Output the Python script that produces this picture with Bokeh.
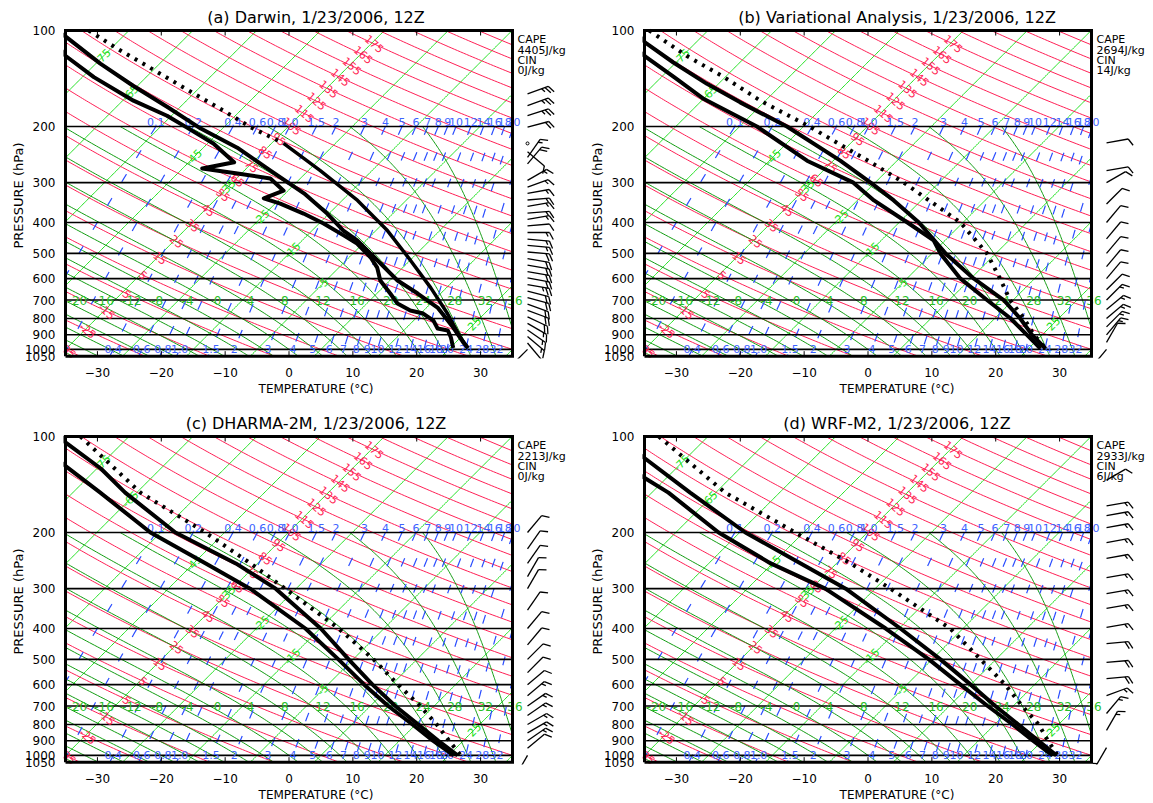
import numpy as np
from bokeh.plotting import figure
from bokeh.layouts import column, row
from bokeh.models import Range1d, FixedTicker, PrintfTickFormatter, Title
from bokeh.core.properties import value
from bokeh.embed import file_html
from bokeh.resources import INLINE

FONT = "DejaVu Sans"

# ---------------- data ----------------
titles = ["(a) Darwin, 1/23/2006, 12Z", "(b) Variational Analysis, 1/23/2006, 12Z",
          "(c) DHARMA-2M, 1/23/2006, 12Z", "(d) WRF-M2, 1/23/2006, 12Z"]
cape_text = ["4405J/kg", "2694J/kg", "2213J/kg", "2933J/kg"]
cin_text = ["0J/kg", "14J/kg", "0J/kg", "6J/kg"]

temp_ticks = [-30, -20, -10, 0, 10, 20, 30]
pres_ticks = [100, 200, 300, 400, 500, 600, 700, 800, 900, 1000, 1050]
pres_lines = [200, 300, 400, 500, 600, 700, 800, 900, 1000]
isotherms = list(range(-85, 36, 10))
dry_adiabats = list(range(-35, 226, 10))
moist_adiabats = list(range(-40, 37, 4))
moist_labels = list(range(-20, 37, 4))
mix_ratios = [0.1, 0.2, 0.4, 0.6, 0.8, 1.0, 1.5, 2, 3, 4, 5, 6, 7, 8, 9, 10, 12, 14, 16, 18, 20, 24, 28, 32]
mix_names = ["0.1", "0.2", "0.4", "0.6", "0.8", "1.0", "1.5", "2", "3", "4", "5", "6", "7", "8", "9",
             "10", "12", "14", "16", "18", "20", "24", "28", "32"]
iso_label_t = [-75, -65, -45, -35, -25, -15, -5, 25]
iso_label_p = [121, 157, 250, 311, 386, 489, 622, 830]

# panel (a) Darwin
a_temp_p = [100, 104, 127, 149, 174, 203, 233, 275, 324, 375, 424, 456, 500, 538, 608, 668, 739, 854, 951, 990]
a_temp_t = [-86.5, -84.2, -74.3, -65.7, -56.9, -48.4, -39.7, -30.9, -22.1, -15.3, -10.1, -6.3, -2.3, 0.9,
            6.2, 11.4, 16.7, 22.3, 26.2, 27.8]
a_dewp_p = [100, 120, 140, 166, 185, 202, 226, 259, 271, 281, 291, 318, 336, 349, 375, 403, 439, 466, 515,
            554, 608, 668, 718, 755, 772, 812, 860, 872, 918, 990]
a_dewp_t = [-88.0, -81.0, -73.2, -63.3, -55.7, -50.6, -44.1, -37.9, -41.9, -35.6, -29.7, -25.7, -27.6,
            -24.2, -19.0, -14.3, -9.3, -5.9, -1.6, 1.0, 3.5, 7.1, 9.8, 12.9, 15.4, 18.1, 20.0, 21.9, 23.5, 25.5]
a_parc_p = [100, 114, 131, 151, 174, 201, 226, 275, 341, 424, 526, 640, 772, 918, 990]
a_parc_t = [-81.3, -74.0, -65.8, -57.5, -49.1, -40.8, -33.1, -23.1, -12.6, -3.2, 5.1, 12.5, 19.2, 25.0, 27.8]

# panel (b) Variational Analysis
b_temp_p = [100, 109, 126, 147, 168, 200, 256, 300, 341, 400, 500, 600, 700, 800, 900, 995]
b_temp_t = [-86.5, -83.0, -75.4, -66.8, -58.7, -47.6, -33.9, -25.7, -19.3, -11.9, -2.9, 5.5, 13.5, 19.0, 23.4, 27.7]
b_dewp_p = [100, 121, 140, 164, 200, 256, 300, 341, 400, 455, 500, 600, 700, 800, 900, 995]
b_dewp_t = [-90.0, -80.6, -73.0, -64.9, -52.3, -39.1, -28.4, -22.4, -13.7, -6.8, -3.7, 3.4, 10.9, 17.5, 22.6, 26.9]
b_parc_p = [100, 120, 140, 166, 201, 262, 300, 400, 500, 600, 700, 800, 900, 995]
b_parc_t = [-84.2, -74.4, -65.2, -55.8, -43.8, -28.2, -20.5, -5.4, 3.6, 9.6, 14.5, 19.6, 23.7, 27.7]

# panel (c) DHARMA-2M
c_temp_p = [100, 104, 126, 150, 200, 250, 300, 400, 500, 600, 700, 800, 900, 1000]
c_temp_t = [-85.5, -84.2, -74.4, -66.8, -52.7, -38.4, -28.2, -14.9, -5.7, 2.0, 8.9, 15.4, 21.1, 26.4]
c_dewp_p = [100, 124, 150, 200, 250, 300, 400, 500, 600, 700, 800, 900, 1000]
c_dewp_t = [-91.0, -80.2, -70.7, -56.6, -43.1, -32.2, -17.3, -7.3, 0.7, 7.8, 14.5, 20.3, 25.8]
c_parc_p = [100, 150, 200, 250, 300, 400, 500, 600, 700, 800, 900, 1000]
c_parc_t = [-82.6, -64.4, -48.0, -36.1, -26.7, -12.1, -1.8, 6.0, 12.8, 18.3, 22.8, 26.9]

# panel (d) WRF-M2
d_temp_p = [100, 117, 150, 200, 250, 300, 400, 500, 600, 700, 800, 900, 1000]
d_temp_t = [-89.4, -81.5, -69.0, -54.1, -40.6, -29.6, -14.8, -3.7, 5.0, 12.2, 18.7, 24.4, 29.5]
d_dewp_p = [100, 135, 150, 200, 250, 300, 400, 500, 600, 700, 800, 900, 1000]
d_dewp_t = [-95.5, -78.4, -72.4, -58.3, -45.3, -32.8, -17.1, -5.5, 3.4, 11.0, 17.8, 23.6, 28.9]
d_parc_p = [100, 150, 200, 250, 300, 400, 500, 600, 700, 800, 900, 1000]
d_parc_t = [-82.7, -63.5, -46.3, -32.8, -22.6, -7.0, 2.6, 10.4, 16.4, 21.9, 25.9, 29.7]

# wind barbs: pressure (hPa), direction (deg, from), speed (kt)
a_barb_p = [158, 172, 185, 201, 226, 240, 250, 262, 295, 310, 324, 340, 356, 374, 391, 410, 430, 451, 472,
            495, 519, 544, 570, 597, 626, 656, 688, 721, 755, 791, 829, 869, 911, 955, 1000]
a_barb_d = [70, 70, 72, 75, 0, 130, 35, 40, 60, 70, 80, 85, 80, 85, 80, 85, 90, 95, 95,
            95, 100, 100, 100, 100, 100, 105, 105, 110, 110, 115, 120, 125, 130, 140, 225]
a_barb_s = [25, 25, 25, 20, 0, 10, 15, 20, 15, 15, 15, 15, 15, 15, 15, 10, 15, 15, 15,
            20, 20, 20, 20, 20, 25, 20, 20, 20, 20, 20, 15, 15, 15, 10, 3]
b_barb_p = [225, 275, 300, 350, 400, 450, 500, 550, 600, 650, 700, 750, 800, 850, 900, 950, 1000]
b_barb_d = [80, 80, 60, 45, 40, 40, 40, 40, 40, 45, 45, 50, 50, 45, 40, 30, 220]
b_barb_s = [10, 10, 10, 10, 10, 10, 10, 10, 10, 10, 15, 15, 15, 15, 15, 10, 10]
c_barb_p = [200, 225, 250, 275, 300, 350, 400, 450, 500, 550, 600, 650, 700, 750, 800, 850, 900, 950, 1000]
c_barb_d = [40, 35, 35, 30, 30, 35, 40, 40, 45, 45, 50, 50, 55, 55, 60, 60, 55, 50, 210]
c_barb_s = [10, 10, 10, 10, 10, 10, 10, 10, 10, 10, 10, 15, 15, 15, 15, 15, 15, 10, 10]
d_barb_p = [137, 165, 177, 193, 215, 241, 277, 311, 346, 397, 446, 511, 574, 649, 739, 835, 945]
d_barb_d = [60, 80, 80, 80, 80, 80, 80, 80, 80, 80, 85, 85, 85, 70, 40, 30, 210]
d_barb_s = [10, 15, 15, 15, 15, 15, 15, 15, 15, 15, 20, 20, 20, 15, 15, 15, 15]

# ---------------- geometry / styling ----------------
PXC = 6.386          # px per degC along x
PXL = 138.5          # px per ln(p)
K = PXL / PXC        # skew (45 degrees)
FH = 330             # frame height px
P_TOP = 100 * np.exp(-2 / PXL)
P_BOT = 100 * np.exp((FH - 2) / PXL)
X_LEFT = -35 - 2 / PXC

C_ISO = "#1ee01e"
C_MOIST = "#129c12"
C_DRY = "#ff1f55"
C_MIX = "#2a4dff"
C_MIXT = "#3d63ff"
C_GLAB = "#28c028"


def skx(T, p):
    return np.asarray(T, float) + K * np.log(1000.0 / np.asarray(p, float))


def clip_x(X, P, xmin=-35.0, xmax=35.0):
    X = np.asarray(X, float)
    lp = np.log(np.asarray(P, float))
    segs = []
    cur = []
    for i in range(len(X)):
        x, y = X[i], lp[i]
        ins = xmin <= x <= xmax
        if ins:
            if not cur and i > 0:
                x0, y0 = X[i - 1], lp[i - 1]
                b = xmin if x0 < xmin else xmax
                t = (b - x0) / (x - x0)
                cur.append((b, y0 + t * (y - y0)))
            cur.append((x, y))
        else:
            if cur:
                x0, y0 = X[i - 1], lp[i - 1]
                b = xmin if x < xmin else xmax
                t = (b - x0) / (x - x0)
                cur.append((b, y0 + t * (y - y0)))
                segs.append(cur)
                cur = []
    if cur:
        segs.append(cur)
    return [([q[0] for q in s], [float(np.exp(q[1])) for q in s]) for s in segs if len(s) > 1]


def dTdlnp(T, lnp):
    p = np.exp(lnp)
    tc = T - 273.15
    es = 6.112 * np.exp(17.67 * tc / (tc + 243.5))
    rs = 0.622 * es / (p - es)
    num = 287.04 * T + 2.501e6 * rs
    den = 1005.7 + (2.501e6 ** 2) * rs * 0.622 / (287.04 * T * T)
    return num / den


def integrate(T0, lnps):
    T = T0
    out = [T]
    for i in range(len(lnps) - 1):
        h = lnps[i + 1] - lnps[i]
        l0 = lnps[i]
        k1 = dTdlnp(T, l0)
        k2 = dTdlnp(T + h / 2 * k1, l0 + h / 2)
        k3 = dTdlnp(T + h / 2 * k2, l0 + h / 2)
        k4 = dTdlnp(T + h * k3, l0 + h)
        T = T + h / 6 * (k1 + 2 * k2 + 2 * k3 + k4)
        out.append(T)
    return np.array(out)


def moist_curve(tw):
    up = np.linspace(np.log(1000.0), np.log(200.0), 161)
    dn = np.linspace(np.log(1000.0), np.log(1050.0), 9)
    Tu = integrate(tw + 273.15, up)
    Td = integrate(tw + 273.15, dn)
    lnp = np.concatenate([dn[::-1], up[1:]])
    T = np.concatenate([Td[::-1], Tu[1:]]) - 273.15
    return np.exp(lnp), T


def mix_td(w, p):
    e = (w / 1000.0) * p / (0.622 + w / 1000.0)
    x = np.log(e / 6.112)
    return 243.5 * x / (17.67 - x)


# background line sets (same for every panel)
P_FULL = np.exp(np.linspace(np.log(100.0), np.log(1050.0), 260))
P_LOW = np.exp(np.linspace(np.log(200.0), np.log(1050.0), 200))

iso_xs, iso_ys = [], []
for t in isotherms:
    for sx, sy in clip_x(skx(np.full_like(P_FULL, t), P_FULL), P_FULL):
        iso_xs.append(sx); iso_ys.append(sy)

dry_xs, dry_ys = [], []
for th in dry_adiabats:
    T = (th + 273.15) * (P_FULL / 1000.0) ** 0.2857 - 273.15
    for sx, sy in clip_x(skx(T, P_FULL), P_FULL):
        dry_xs.append(sx); dry_ys.append(sy)

moist_xs, moist_ys = [], []
moist_x700 = {}
for tw in moist_adiabats:
    pp, TT = moist_curve(tw)
    for sx, sy in clip_x(skx(TT, pp), pp):
        moist_xs.append(sx); moist_ys.append(sy)
    moist_x700[tw] = float(np.interp(np.log(700.0), np.log(pp[::-1]), skx(TT, pp)[::-1]))

mix_xs, mix_ys = [], []
for w in mix_ratios:
    T = mix_td(w, P_LOW)
    for sx, sy in clip_x(skx(T, P_LOW), P_LOW):
        mix_xs.append(sx); mix_ys.append(sy)

# label positions
red_x, red_y, red_t = [], [], []
for th in dry_adiabats:
    if th > 175:
        continue
    pl = 1000.0 * ((273.15 - 34.5) / (th + 273.15)) ** (1 / 0.2857)
    if 104 < pl < 1045:
        red_x.append(float(skx(-34.5, pl))); red_y.append(pl); red_t.append(str(th))

mt_x, mt_y, mt_t, mb_x, mb_y, mb_t = [], [], [], [], [], []
for w, nm in zip(mix_ratios, mix_names):
    xt = float(skx(mix_td(w, 200.0), 200.0))
    if -35 <= xt <= 35.5:
        mt_x.append(xt); mt_y.append(193.0); mt_t.append(nm)
    xb = float(skx(mix_td(w, 1000.0), 1000.0))
    if -34 <= xb <= 35:
        mb_x.append(xb); mb_y.append(1000.0); mb_t.append(nm)

ml_x = [moist_x700[t] + 0.6 for t in moist_labels]
ml_y = [700.0] * len(moist_labels)
ml_t = [str(t) for t in moist_labels]

il_x = [float(skx(t, pp)) for t, pp in zip(iso_label_t, iso_label_p)]
il_t = [str(t) for t in iso_label_t]


def barb_lines(ps, ds, ss, X0):
    xs, ys, cx, cy = [], [], [], []
    for p, d, s in zip(ps, ds, ss):
        if s < 2.5 and d == 0:
            cx.append(X0); cy.append(p)
            continue
        r = np.radians(d)
        ux, uy = np.sin(r), np.cos(r)
        qx, qy = uy, -ux
        fx, fy = 0.88 * qx + 0.47 * ux, 0.88 * qy + 0.47 * uy

        def td(a, b):
            return X0 + a / PXC, p * np.exp(-b / PXL)
        L = 22.0
        a0 = td(0, 0); a1 = td(L * ux, L * uy)
        xs.append([a0[0], a1[0]]); ys.append([a0[1], a1[1]])
        n = int(round(s / 5.0))
        full, half = divmod(n, 2)
        pos = L
        for i in range(full):
            b0 = td(pos * ux, pos * uy); b1 = td(pos * ux + 8 * fx, pos * uy + 8 * fy)
            xs.append([b0[0], b1[0]]); ys.append([b0[1], b1[1]])
            pos -= 3.5
        if half:
            if full == 0:
                pos -= 3.5
            b0 = td(pos * ux, pos * uy); b1 = td(pos * ux + 4.5 * fx, pos * uy + 4.5 * fy)
            xs.append([b0[0], b1[0]]); ys.append([b0[1], b1[1]])
    return xs, ys, cx, cy


def text(fig, x, y, t, color, size, angle=0.0, align="center"):
    fig.text(x=x, y=y, text=t, angle=angle, text_font=value(FONT), text_font_size=size,
             text_color=color, text_align=align, text_baseline="middle")


def panel(i, width, height, rb, title, tp, tt, dp, dt, pp, pt, bp, bd, bs, split=None):
    fw = width - 63 - rb
    x_right = X_LEFT + fw / PXC
    fig = figure(width=width, height=height, x_range=Range1d(X_LEFT, x_right),
                 y_range=Range1d(P_BOT, P_TOP), y_axis_type="log",
                 output_backend="svg", toolbar_location=None,
                 min_border_left=63, min_border_right=rb, min_border_top=28,
                 min_border_bottom=height - 28 - FH)
    fig.outline_line_color = None
    fig.xgrid.visible = False
    fig.ygrid.visible = False

    # title centred over the skew-T box (not over the barb column)
    box_center = 65 + 223.5
    frame_center = 63 + fw / 2.0
    fig.title.text = title
    fig.title.align = "center"
    fig.title.offset = box_center - frame_center
    fig.title.text_font = FONT
    fig.title.text_font_size = "16px"
    fig.title.text_font_style = "normal"
    fig.title.text_color = "black"
    fig.title.standoff = 3

    # axes
    fig.xaxis.ticker = FixedTicker(ticks=temp_ticks)
    fig.yaxis.ticker = FixedTicker(ticks=pres_ticks)
    fig.yaxis.formatter = PrintfTickFormatter(format="%d")
    for ax in (fig.xaxis[0], fig.yaxis[0]):
        ax.axis_line_color = None
        ax.major_tick_line_color = None
        ax.minor_tick_line_color = None
        ax.major_label_text_font = FONT
        ax.major_label_text_font_size = "12px"
        ax.major_label_text_color = "black"
    fig.xaxis.major_label_standoff = 3
    fig.yaxis.major_label_standoff = 2
    fig.yaxis.axis_label = "PRESSURE  (hPa)"
    fig.yaxis.axis_label_text_font = FONT
    fig.yaxis.axis_label_text_font_size = "13px"
    fig.yaxis.axis_label_text_font_style = "normal"
    fig.yaxis.axis_label_text_color = "black"
    fig.yaxis.axis_label_standoff = -4
    fig.add_layout(Title(text="TEMPERATURE (°C)", align="center", offset=box_center - frame_center,
                         text_font=FONT, text_font_size="12px", text_font_style="normal",
                         text_color="black", standoff=1), "below")

    # background
    fig.multi_line(iso_xs, iso_ys, line_color=C_ISO, line_width=1)
    fig.multi_line(dry_xs, dry_ys, line_color=C_DRY, line_width=1)
    fig.multi_line(moist_xs, moist_ys, line_color=C_MOIST, line_width=1)
    fig.multi_line(mix_xs, mix_ys, line_color=C_MIX, line_width=1.2, line_dash="9 19")
    fig.multi_line([[-35, 35]] * len(pres_lines), [[p, p] for p in pres_lines],
                   line_color="black", line_width=1.6)

    text(fig, red_x, red_y, red_t, C_DRY, "11px", angle=-0.72)
    text(fig, il_x, iso_label_p, il_t, C_ISO, "11px", angle=np.pi / 4)
    text(fig, ml_x, ml_y, ml_t, C_GLAB, "12px", align="left")
    text(fig, mt_x, mt_y, mt_t, C_MIXT, "11px")
    text(fig, mb_x, mb_y, mb_t, C_MIXT, "11px")

    # profiles
    fig.line(skx(tt, tp), tp, line_color="black", line_width=4, line_join="round")
    fig.line(skx(dt, dp), dp, line_color="black", line_width=4, line_join="round")
    pp = np.asarray(pp, float); pt = np.asarray(pt, float)
    if split is None:
        fig.line(skx(pt, pp), pp, line_color="black", line_width=4, line_dash="3 6")
    else:
        up = pp <= split
        lo = pp >= split
        fig.line(skx(pt[up], pp[up]), pp[up], line_color="black", line_width=4, line_dash="3 6")
        fig.line(skx(pt[lo], pp[lo]), pp[lo], line_color="black", line_width=3.5)

    # frame box and ticks
    fig.line([-35, 35, 35, -35, -35], [1050, 1050, 100, 100, 1050], line_color="black",
             line_width=3, line_join="miter")
    tk_x = [[t, t] for t in temp_ticks]
    fig.multi_line(tk_x + tk_x, [[100, 100 * np.exp(5 / PXL)]] * len(temp_ticks) +
                   [[1050, 1050 * np.exp(-5 / PXL)]] * len(temp_ticks), line_color="black", line_width=1)

    # wind barbs
    X0 = 35 + 15 / PXC
    bx, by, cx, cy = barb_lines(bp, bd, bs, X0)
    fig.multi_line(bx, by, line_color="black", line_width=1.3)
    if cx:
        fig.scatter(cx, cy, size=3, marker="circle", fill_color=None, line_color="black")

    # CAPE / CIN text
    X1 = 35 + 5 / PXC
    cy_px = [39, 50, 60, 70]
    text(fig, [X1] * 4, [100 * np.exp((v - 30) / PXL) for v in cy_px],
         ["CAPE", cape_text[i], "CIN", cin_text[i]], "black", "11px", align="left")
    return fig


pa = panel(0, 579, 406, 11, titles[0], a_temp_p, a_temp_t, a_dewp_p, a_dewp_t, a_parc_p, a_parc_t,
           a_barb_p, a_barb_d, a_barb_s, split=226)
pb = panel(1, 574, 406, 2, titles[1], b_temp_p, b_temp_t, b_dewp_p, b_dewp_t, b_parc_p, b_parc_t,
           b_barb_p, b_barb_d, b_barb_s)
pc = panel(2, 579, 397, 11, titles[2], c_temp_p, c_temp_t, c_dewp_p, c_dewp_t, c_parc_p, c_parc_t,
           c_barb_p, c_barb_d, c_barb_s)
pd = panel(3, 574, 397, 2, titles[3], d_temp_p, d_temp_t, d_dewp_p, d_dewp_t, d_parc_p, d_parc_t,
           d_barb_p, d_barb_d, d_barb_s)

layout = column(row(pa, pb, spacing=0), row(pc, pd, spacing=0), spacing=0)
open("out.html", "w").write(file_html(layout, INLINE))
